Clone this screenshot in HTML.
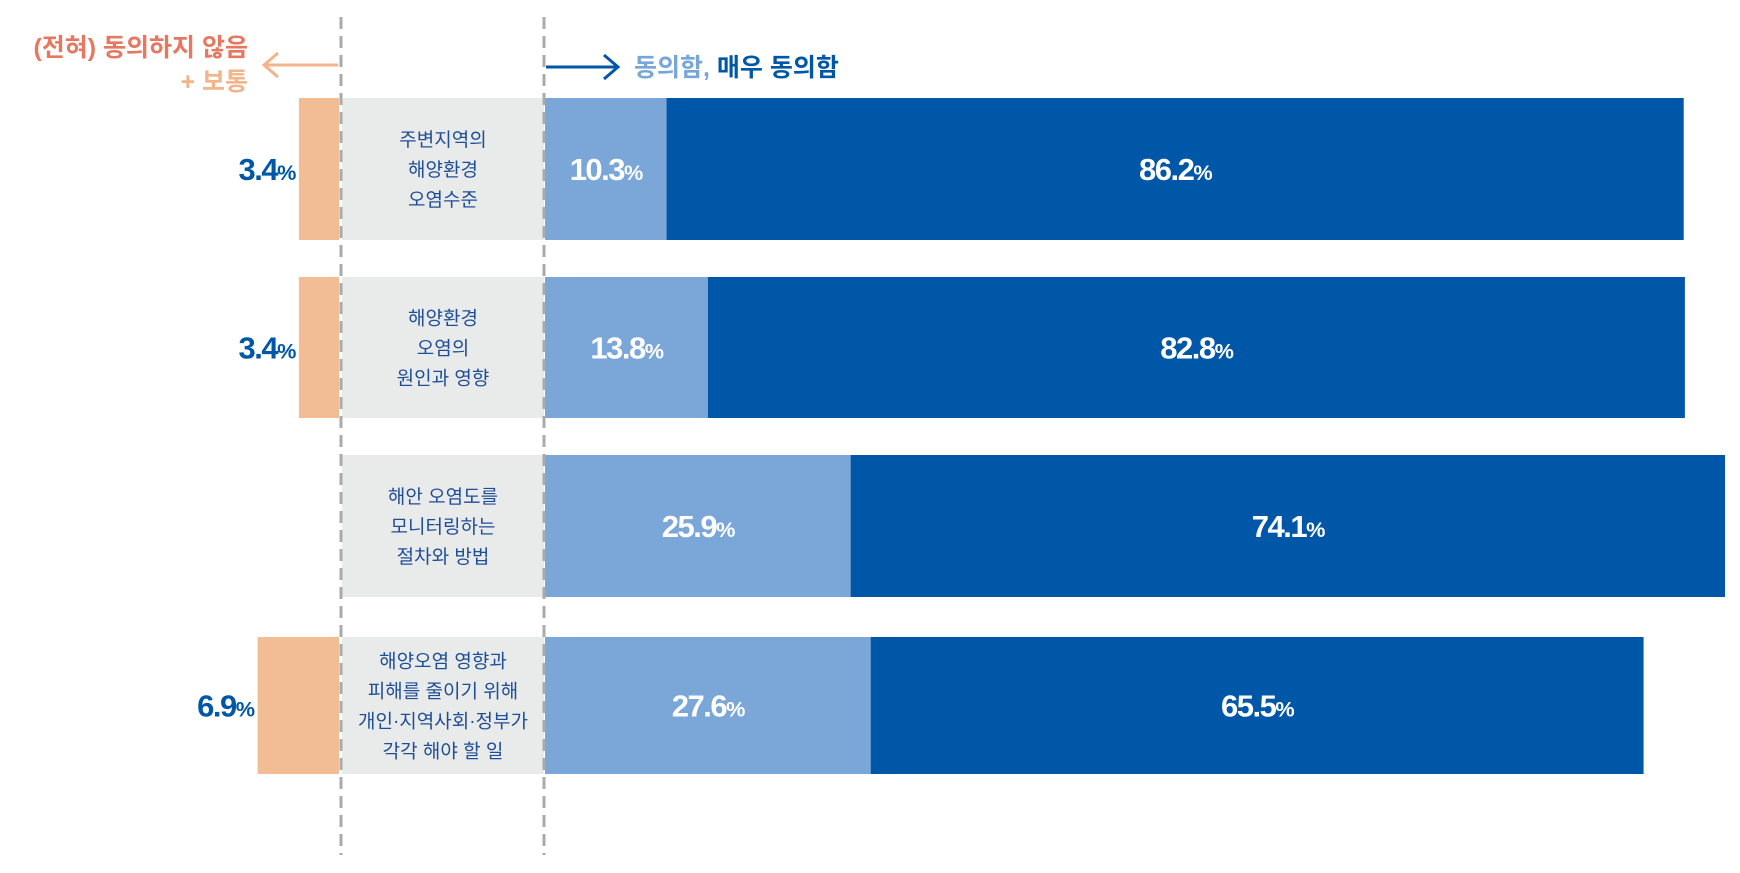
<!DOCTYPE html>
<html><head><meta charset="utf-8"><style>
body{margin:0;width:1740px;height:868px;background:#fff;overflow:hidden;font-family:"Liberation Sans","Noto Sans CJK KR",sans-serif}
svg text{font-family:"Liberation Sans","Noto Sans CJK KR",sans-serif}
</style></head><body>
<svg id="chart" width="1740" height="868">
<g id="header">
<text x="248" y="56" text-anchor="end" font-size="25" font-weight="bold" fill="#e8775f">(전혀) 동의하지 않음</text>
<text x="248" y="90" text-anchor="end" font-size="25" font-weight="bold" fill="#f4b48a">+ 보통</text>
<path d="M338 65 H265 M278 53 L264 65 L278 77" stroke="#f4b48a" stroke-width="3" fill="none"/>
<path d="M546 67 H616 M604 55 L618 67 L604 79" stroke="#0057a8" stroke-width="3" fill="none"/>
<text x="634" y="76" font-size="25" font-weight="bold"><tspan fill="#78a6d8">동의함,</tspan><tspan fill="#0057a8"> 매우 동의함</tspan></text>
</g>
<g id="bars"></g>
<line x1="341" y1="17" x2="341" y2="855" stroke="#aaa" stroke-width="3" stroke-dasharray="12,7"/>
<line x1="544" y1="17" x2="544" y2="855" stroke="#aaa" stroke-width="3" stroke-dasharray="12,7"/>
</svg>
<script>
const categories=[["주변지역의","해양환경","오염수준"],["해양환경","오염의","원인과 영향"],["해안 오염도를","모니터링하는","절차와 방법"],["해양오염 영향과","피해를 줄이기 위해","개인·지역사회·정부가","각각 해야 할 일"]];
const disagree=[3.4,3.4,0,6.9];
const agree=[10.3,13.8,25.9,27.6];
const stronglyAgree=[86.2,82.8,74.1,65.5];
const rowTop=[98,277,455,637];
const rowH=[142,141,142,137];
const X0=545, SCALE=11.8, LEFT0=339;
const xs=v=>v*SCALE;
const g=document.getElementById('bars');
const NS='http://www.w3.org/2000/svg';
function mk(tag,attrs){const e=document.createElementNS(NS,tag);for(const k in attrs)e.setAttribute(k,attrs[k]);g.appendChild(e);return e;}
function valText(x,y,v,size,fill,anchor){
 const t=mk('text',{x:x,y:y,'text-anchor':anchor,'font-size':size,'font-weight':'bold',fill:fill,'letter-spacing':'-1.5'});
 t.innerHTML=v.toFixed(1)+'<tspan font-size="'+(size*0.7)+'">%</tspan>';
 return t;
}
categories.forEach((c,i)=>{
 const y=rowTop[i],h=rowH[i],cy=y+h/2;
 const gr=mk('rect',{x:342,y:y,width:202,height:h,fill:'#e9eaea'});
 
 
 const lh=30, start=cy-(c.length-1)*lh/2+7;
 c.forEach((ln,j)=>{
  const t=mk('text',{x:443,y:start+j*lh,'text-anchor':'middle','font-size':19,fill:'#1f4e96'});
  t.textContent=ln;
  
  
 });
 if(disagree[i]>0){
  const w=xs(disagree[i]);
  const r=mk('rect',{x:LEFT0-w,y:y,width:w,height:h,fill:'#f2bd95'});
  
  
  const t=valText(LEFT0-w-4,cy+11,disagree[i],31,'#0057a8','end');
  
  
 }
 const wa=xs(agree[i]);
 const ra=mk('rect',{x:X0,y:y,width:wa,height:h,fill:'#7aa6d8'});
 
 
 const ta=valText(X0+wa/2,cy+11,agree[i],31,'#fff','middle');
 
 
 const ws=xs(stronglyAgree[i]);
 const rs=mk('rect',{x:X0+wa,y:y,width:ws,height:h,fill:'#0057a8'});
 
 
 const ts=valText(X0+wa+ws/2,cy+11,stronglyAgree[i],31,'#fff','middle');
 
 
});
</script>
</body></html>
